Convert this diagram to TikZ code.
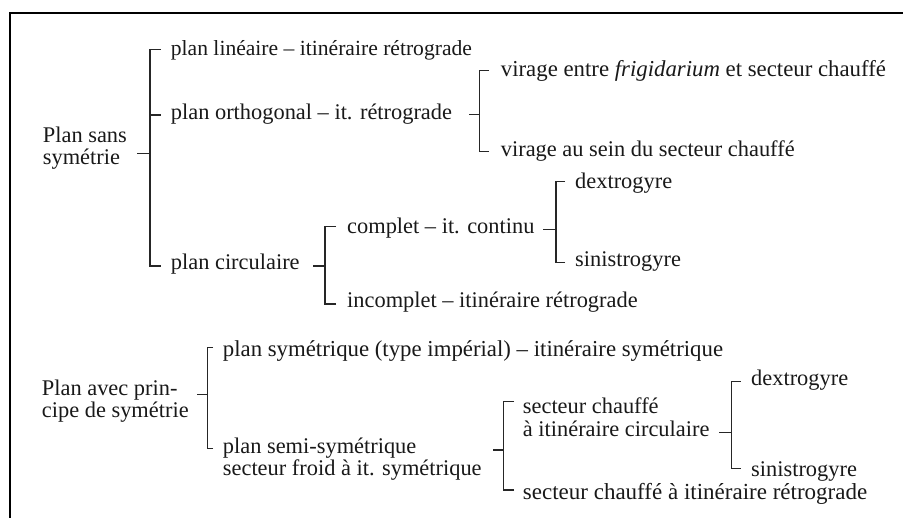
\documentclass[tikz,border=0pt]{standalone}
\usepackage{fontspec}
\setmainfont{Liberation Serif}
\begin{document}
\begin{tikzpicture}[x=1pt,y=-1pt,
  txt/.style={anchor=base west, inner sep=0pt, align=left,
    font=\fontsize{22.4}{22}\selectfont, text=black!90},
  br/.style={line width=1.2pt, draw=black!85},
  frameline/.style={line width=2.2pt, draw=black}]
\useasboundingbox (0,0) rectangle (903,518);
\fill[white] (0,0) rectangle (903,518);
% frame (top and left)
\coordinate (fTR) at (903,13);
\coordinate (fTL) at (10,13);
\coordinate (fBL) at (10,518);
\draw[frameline] (fTR) -- (fTL) -- (fBL);

% ---------- group 1 ----------
% (multi-line nodes: base = baseline of the last line)
\node[txt] (r1) at (42.7,165) {Plan sans\\symétrie};
\node[txt,font=\fontsize{21.6}{22}\selectfont] (a1) at (170.7,56) {plan linéaire – itinéraire rétrograde};
\node[txt] (a2) at (170.7,120) {plan orthogonal – it. rétrograde};
\node[txt] (a3) at (170.7,270) {plan circulaire};
\node[txt,font=\fontsize{22.8}{22}\selectfont] (b1) at (500.7,77) {virage entre \textit{frigidarium} et secteur chauffé};
\node[txt] (b2) at (500.7,156.7) {virage au sein du secteur chauffé};
\node[txt] (c1) at (347,233.3) {complet – it. continu};
\node[txt] (c2) at (347,308) {incomplet – itinéraire rétrograde};
\node[txt] (d1) at (575,189) {dextrogyre};
\node[txt] (d2) at (575,267) {sinistrogyre};

% ---------- group 2 ----------
\node[txt] (r2) at (41.7,417.5) {Plan avec prin-\\cipe de symétrie};
\node[txt,font=\fontsize{22.8}{22}\selectfont] (e1) at (222.7,357) {plan symétrique (type impérial) – itinéraire symétrique};
\node[txt] (e2) at (222.7,476) {plan semi-symétrique\\secteur froid à it. symétrique};
\node[txt] (f1) at (522.7,436.7) {secteur chauffé\\[1.5pt]à itinéraire circulaire};
\node[txt,font=\fontsize{23}{22}\selectfont] (f2) at (522.7,500) {secteur chauffé à itinéraire rétrograde};
\node[txt] (g1) at (751,386) {dextrogyre};
\node[txt] (g2) at (751,476.7) {sinistrogyre};

% ---------- junctions (spine x, parent tick y) ----------
\coordinate (jA) at (150,153.3);
\coordinate (jB) at (479.3,114.3);
\coordinate (jC) at (325,266);
\coordinate (jD) at (556,229.3);
\coordinate (jE) at (207.3,394.3);
\coordinate (jF) at (503.3,450);
\coordinate (jG) at (731.7,432.7);

% ---------- brackets ----------
% A
\draw[br] (jA) -- ++(-13,0);
\draw[br] ([shift={(-10,-6.5)}]a1.base west) -| (jA);
\draw[br] ([shift={(-10,-5)}]a2.base west) -| (jA);
\draw[br] ([shift={(-10,-4)}]a3.base west) -| (jA);
% B
\draw[br] (jB) -- ++(-10,0);
\draw[br] ([shift={(-11.7,-6.3)}]b1.base west) -| (jB);
\draw[br] ([shift={(-11.7,-5)}]b2.base west) -| (jB);
% C
\draw[br] (jC) -- ++(-12,0);
\draw[br] ([shift={(-11,-6.6)}]c1.base west) -| (jC);
\draw[br] ([shift={(-11,-4)}]c2.base west) -| (jC);
% D
\draw[br] (jD) -- ++(-13,0);
\draw[br] ([shift={(-10,-7.3)}]d1.base west) -| (jD);
\draw[br] ([shift={(-10,-4.3)}]d2.base west) -| (jD);
% E
\draw[br] (jE) -- ++(-10.6,0);
\draw[br] ([shift={(-9.7,-9.7)}]e1.base west) -| (jE);
\draw[br] ([shift={(-9.7,-27.7)}]e2.base west) -| (jE);
% F
\draw[br] (jF) -- ++(-10.3,0);
\draw[br] ([shift={(-8.7,-35)}]f1.base west) -| (jF);
\draw[br] ([shift={(-8.7,-10)}]f2.base west) -| (jF);
% G
\draw[br] (jG) -- ++(-12.7,0);
\draw[br] ([shift={(-10.3,-4.3)}]g1.base west) -| (jG);
\draw[br] ([shift={(-10.3,-8.4)}]g2.base west) -| (jG);
\end{tikzpicture}
\end{document}
